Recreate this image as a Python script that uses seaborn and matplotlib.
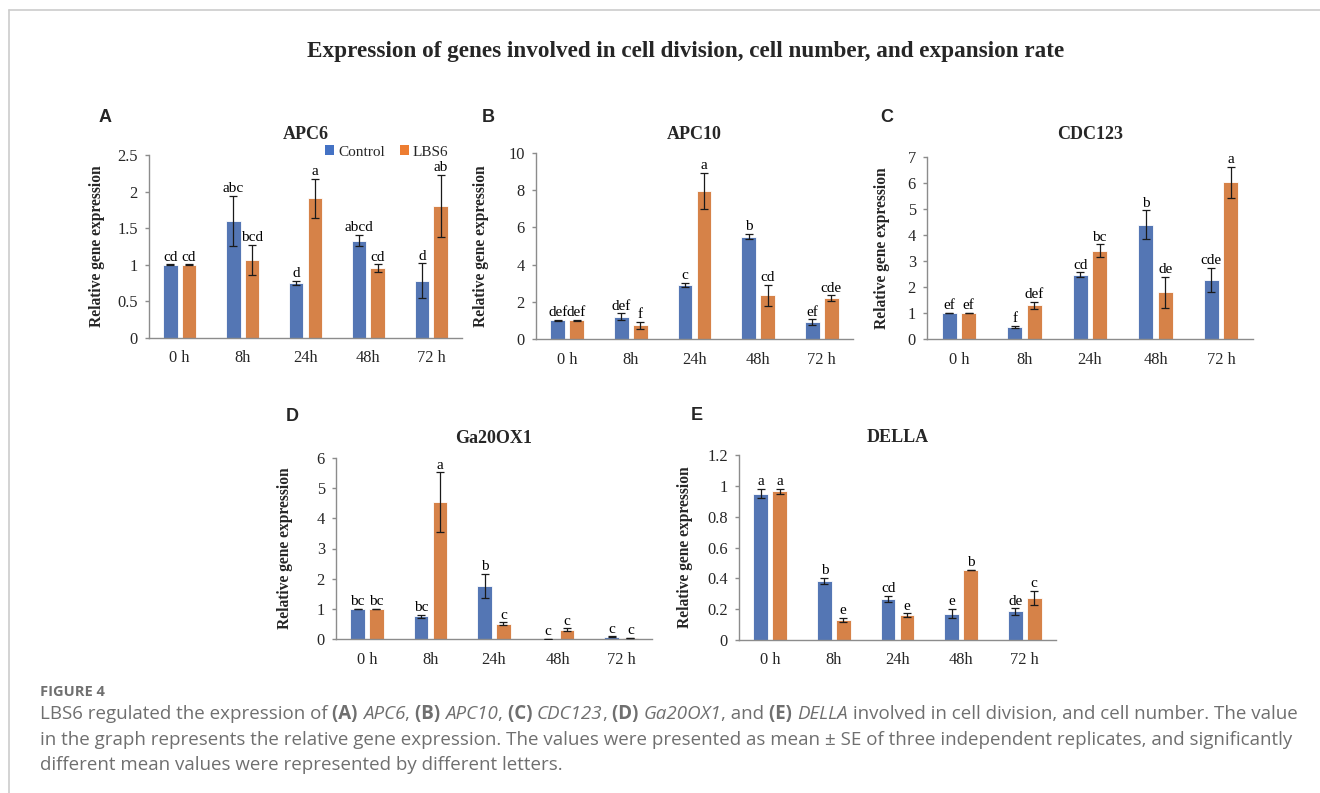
import numpy as np
import pandas as pd
import seaborn as sns
import matplotlib.pyplot as plt
from matplotlib.lines import Line2D
from matplotlib.patches import Patch

# ==========================
# DATA
# ==========================
times = ["0 h", "8h", "24h", "48h", "72 h"]
groups = ["Control", "LBS6"]

apc6_ctrl = [1.00, 1.60, 0.75, 1.33, 0.78]
apc6_ctrl_se = [0.005, 0.34, 0.03, 0.075, 0.24]
apc6_lbs6 = [1.00, 1.07, 1.91, 0.95, 1.80]
apc6_lbs6_se = [0.005, 0.205, 0.265, 0.055, 0.425]
apc6_ctrl_let = ["cd", "abc", "d", "abcd", "d"]
apc6_lbs6_let = ["cd", "bcd", "a", "cd", "ab"]

apc10_ctrl = [1.00, 1.20, 2.90, 5.50, 0.90]
apc10_ctrl_se = [0.02, 0.18, 0.12, 0.15, 0.16]
apc10_lbs6 = [1.00, 0.75, 7.98, 2.35, 2.18]
apc10_lbs6_se = [0.02, 0.19, 0.97, 0.57, 0.16]
apc10_ctrl_let = ["def", "def", "c", "b", "ef"]
apc10_lbs6_let = ["def", "f", "a", "cd", "cde"]

cdc123_ctrl = [1.00, 0.47, 2.48, 4.40, 2.27]
cdc123_ctrl_se = [0.01, 0.04, 0.08, 0.55, 0.46]
cdc123_lbs6 = [1.00, 1.30, 3.40, 1.80, 6.02]
cdc123_lbs6_se = [0.01, 0.13, 0.24, 0.59, 0.60]
cdc123_ctrl_let = ["ef", "f", "cd", "b", "cde"]
cdc123_lbs6_let = ["ef", "def", "bc", "de", "a"]

ga20_ctrl = [1.00, 0.75, 1.77, 0.01, 0.08]
ga20_ctrl_se = [0.005, 0.05, 0.40, 0.003, 0.01]
ga20_lbs6 = [1.00, 4.53, 0.50, 0.30, 0.03]
ga20_lbs6_se = [0.005, 0.99, 0.05, 0.05, 0.005]
ga20_ctrl_let = ["bc", "bc", "b", "c", "c"]
ga20_lbs6_let = ["bc", "a", "c", "c", "c"]

della_ctrl = [0.95, 0.385, 0.265, 0.17, 0.185]
della_ctrl_se = [0.03, 0.02, 0.02, 0.03, 0.02]
della_lbs6 = [0.965, 0.13, 0.16, 0.455, 0.275]
della_lbs6_se = [0.015, 0.015, 0.012, 0.002, 0.045]
della_ctrl_let = ["a", "b", "cd", "e", "de"]
della_lbs6_let = ["a", "e", "e", "b", "c"]

panels = [
    ("A", "APC6", apc6_ctrl, apc6_ctrl_se, apc6_lbs6, apc6_lbs6_se, apc6_ctrl_let, apc6_lbs6_let, 2.5, 0.5),
    ("B", "APC10", apc10_ctrl, apc10_ctrl_se, apc10_lbs6, apc10_lbs6_se, apc10_ctrl_let, apc10_lbs6_let, 10, 2),
    ("C", "CDC123", cdc123_ctrl, cdc123_ctrl_se, cdc123_lbs6, cdc123_lbs6_se, cdc123_ctrl_let, cdc123_lbs6_let, 7, 1),
    ("D", "Ga20OX1", ga20_ctrl, ga20_ctrl_se, ga20_lbs6, ga20_lbs6_se, ga20_ctrl_let, ga20_lbs6_let, 6, 1),
    ("E", "DELLA", della_ctrl, della_ctrl_se, della_lbs6, della_lbs6_se, della_ctrl_let, della_lbs6_let, 1.2, 0.2),
]

# ==========================
# STYLE / LAYOUT
# ==========================
BLUE = "#4472C4"
ORANGE = "#ED7D31"
AXIS_GRAY = "#8c8c8c"
SERIF = "Liberation Serif"

sns.set_theme(style="white")
plt.rcParams["font.family"] = [SERIF, "DejaVu Serif"]

W, H = 1320, 793
fig = plt.figure(figsize=(W / 100, H / 100), dpi=100)
fig.patch.set_facecolor("white")

# axes boxes in pixels: left, top, right, bottom
boxes = {
    "A": (149, 155, 462, 338),
    "B": (536, 153, 853, 339),
    "C": (927, 157, 1253, 339),
    "D": (336, 458, 652, 639),
    "E": (739, 455, 1056, 640),
}
title_pads = {"A": 11.5, "B": 10, "C": 13, "D": 11, "E": 9.5}
ylabel_x = {"A": -0.14, "B": -0.148, "C": -0.113, "D": -0.136, "E": -0.145}
letter_pos = {"A": (105, 117), "B": (488, 117), "C": (887, 117), "D": (292, 417), "E": (697, 416)}

TICK_SIZE = 11.8
LET_SIZE = 11


def fmt_tick(v):
    return f"{v:g}"


for key, gene, ctrl, ctrl_se, lbs, lbs_se, ctrl_let, lbs_let, ymax, ystep in panels:
    l, t, r, b = boxes[key]
    ax = fig.add_axes([l / W, 1 - b / H, (r - l) / W, (b - t) / H])

    df = pd.DataFrame({
        "time": times * 2,
        "group": [groups[0]] * len(times) + [groups[1]] * len(times),
        "value": list(ctrl) + list(lbs),
    })
    sns.barplot(data=df, x="time", y="value", hue="group", order=times, hue_order=groups,
                palette=[BLUE, ORANGE], errorbar=None, width=0.59, gap=0.22,
                edgecolor="white", linewidth=0.6, legend=False, ax=ax)

    for cont, means, ses, lets in zip(ax.containers, [ctrl, lbs], [ctrl_se, lbs_se], [ctrl_let, lbs_let]):
        xs = [p.get_x() + p.get_width() / 2 for p in cont]
        ax.errorbar(xs, means, yerr=ses, fmt="none", ecolor="#1a1a1a", elinewidth=0.9,
                    capsize=2.9, capthick=0.9, zorder=3)
        for x, m, s, lab in zip(xs, means, ses, lets):
            ax.annotate(lab, (x, m + s), xytext=(0, 0.5), textcoords="offset points",
                        ha="center", va="bottom", fontsize=LET_SIZE, color="black")

    ax.set_ylim(0, ymax)
    ticks = np.arange(0, ymax + ystep / 2, ystep)
    ax.set_yticks(ticks)
    ax.set_yticklabels([fmt_tick(round(v, 2)) for v in ticks])
    ax.set_xlabel("")
    ax.set_ylabel("Relative gene expression", fontsize=11.2, fontweight="bold")
    ax.yaxis.set_label_coords(ylabel_x[key], 0.5)
    ax.set_title(gene, fontsize=13, fontweight="bold", pad=title_pads[key])

    sns.despine(ax=ax)
    for side in ["left", "bottom"]:
        ax.spines[side].set_color(AXIS_GRAY)
        ax.spines[side].set_linewidth(1.0)
    ax.tick_params(axis="y", length=3, width=1, color=AXIS_GRAY, pad=5, labelsize=TICK_SIZE,
                   left=True, direction="out")
    ax.tick_params(axis="x", length=0, pad=9, labelsize=TICK_SIZE)

    lx, ly = letter_pos[key]
    fig.text(lx / W, 1 - ly / H, key, fontsize=13, fontweight="bold",
             family="Liberation Sans", ha="center", va="center")

    if key == "A":
        handles = [Patch(facecolor=BLUE, edgecolor="none"), Patch(facecolor=ORANGE, edgecolor="none")]
        fig.legend(handles, groups, loc="center left", bbox_to_anchor=(325 / W, 1 - 152 / H),
                   ncol=2, frameon=False, fontsize=11, handlelength=0.6, handleheight=0.6,
                   handletextpad=0.25, columnspacing=1.0, borderpad=0, borderaxespad=0)

# main title
fig.text(686 / W, 1 - 52 / H, "Expression of genes involved in cell division, cell number, and expansion rate",
         ha="center", va="center", fontsize=16.7, fontweight="bold")

# frame lines (page border)
fig.add_artist(Line2D([9 / W, 1], [1 - 10 / H, 1 - 10 / H], color="#cccccc", lw=1.2))
fig.add_artist(Line2D([9 / W, 9 / W], [0, 1 - 10 / H], color="#cccccc", lw=1.2))

# ==========================
# Caption with mixed styles
# ==========================
CAP = "Open Sans"
CAP_COLOR = "#6f6f6f"
renderer = fig.canvas.get_renderer()

line1 = [("LBS6 regulated the expression of ", "normal", "normal"),
         ("(A) ", "normal", "bold"), ("APC6", "italic", "normal"), (", ", "normal", "normal"),
         ("(B) ", "normal", "bold"), ("APC10", "italic", "normal"), (", ", "normal", "normal"),
         ("(C) ", "normal", "bold"), ("CDC123", "italic", "normal"), (", ", "normal", "normal"),
         ("(D) ", "normal", "bold"), ("Ga20OX1", "italic", "normal"), (", and ", "normal", "normal"),
         ("(E) ", "normal", "bold"), ("DELLA", "italic", "normal"),
         (" involved in cell division, and cell number. The value", "normal", "normal")]
line2 = [("in the graph represents the relative gene expression. The values were presented as mean \u00b1 SE "
          "of three independent replicates, and significantly", "normal", "normal")]
line3 = [("different mean values were represented by different letters.", "normal", "normal")]


def run_width(s, size, **kw):
    t1 = fig.text(0, 0, s + "|", family=CAP, fontsize=size, **kw)
    t2 = fig.text(0, 0, "|", family=CAP, fontsize=size, **kw)
    w = t1.get_window_extent(renderer).width - t2.get_window_extent(renderer).width
    t1.remove()
    t2.remove()
    return w


# size the caption so the first line spans the same width as in the source page
base = 12
w1 = sum(run_width(s, base, style=st, weight=wt) for s, st, wt in line1)
CAP_SIZE = base * 1254 / w1


def draw_runs(x_px, y_px, runs):
    x = x_px
    for s, style, weight in runs:
        kw = dict(style=style, weight=weight)
        fig.text(x / W, 1 - y_px / H, s, va="center", ha="left", family=CAP,
                 fontsize=CAP_SIZE, color=CAP_COLOR, **kw)
        x += run_width(s, CAP_SIZE, **kw)


fig.text(40 / W, 1 - 692 / H, "FIGURE 4", family=CAP, fontsize=10.5, color="#707070",
         weight="bold", va="center", ha="left")

draw_runs(40, 714, line1)
draw_runs(40, 740, line2)
draw_runs(40, 765, line3)

fig.savefig("out.png", dpi=100)
